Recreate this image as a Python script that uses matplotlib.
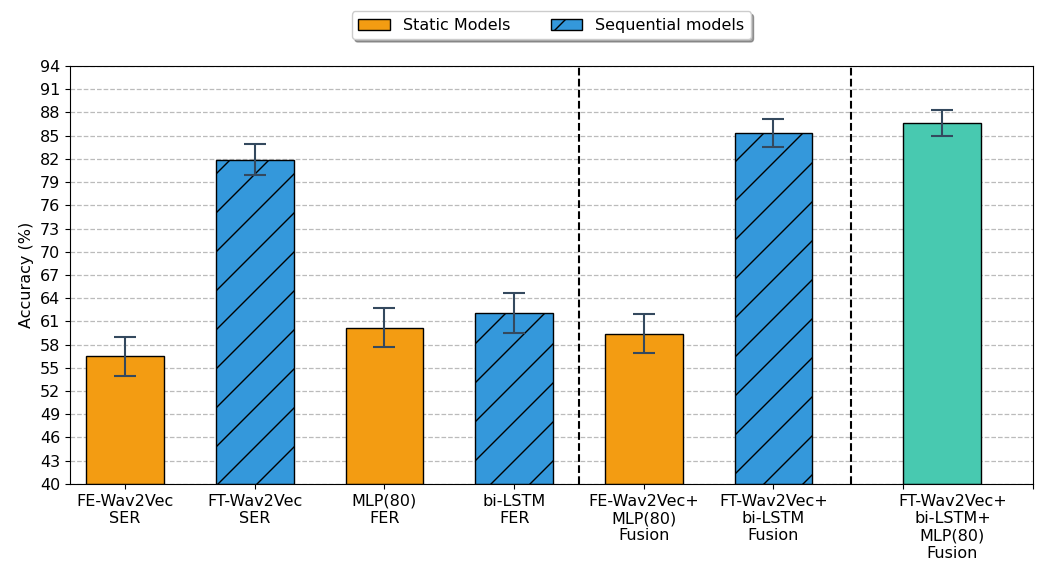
import numpy as np
import matplotlib
matplotlib.use('Agg')
import matplotlib.pyplot as plt
from matplotlib.patches import Patch

# bar labels, positions and values
labels = ['FE-Wav2Vec\nSER', 'FT-Wav2Vec\nSER', 'MLP(80)\nFER', 'bi-LSTM\nFER',
          'FE-Wav2Vec+\nMLP(80)\nFusion', 'FT-Wav2Vec+\nbi-LSTM\nFusion']
last_label = 'FT-Wav2Vec+\nbi-LSTM+\nMLP(80)\nFusion'
positions = [0, 1, 2, 3, 4, 5, 6.3]
accuracy = [56.5, 81.9, 60.2, 62.1, 59.4, 85.3, 86.6]
errors = [2.5, 2.0, 2.5, 2.55, 2.5, 1.8, 1.7]
kinds = ['static', 'seq', 'static', 'seq', 'static', 'seq', 'fusion']

colors = {'static': '#F39C12', 'seq': '#3498DB', 'fusion': '#48C9B0'}
hatches = {'static': '', 'seq': '/', 'fusion': ''}

# hatch spacing depends on dpi, so pick the dpi for it and scale point sizes back
DPI = 117
S = 100.0 / DPI
plt.rcParams.update({
    'font.size': 11.5 * S,
    'axes.linewidth': 0.8 * S,
    'xtick.major.size': 3.5 * S, 'xtick.major.width': 0.8 * S, 'xtick.major.pad': 3.5 * S,
    'ytick.major.size': 3.5 * S, 'ytick.major.width': 0.8 * S, 'ytick.major.pad': 3.5 * S,
    'hatch.linewidth': 1.0 * S,
    'patch.linewidth': 1.0 * S,
    'axes.labelpad': 4.0 * S,
})

fig = plt.figure(figsize=(1037 / DPI, 564 / DPI), dpi=DPI)
ax = fig.add_axes([0.0675, 0.142, 0.9285, 0.741])

ax.yaxis.grid(True, linestyle='--', color='#bbbbbb', linewidth=0.9 * S, zorder=0)
ax.set_axisbelow(True)

for x, v, e, k in zip(positions, accuracy, errors, kinds):
    ax.bar(x, v - 40, bottom=40, width=0.6, color=colors[k], hatch=hatches[k],
           edgecolor='black', linewidth=1.0 * S, zorder=2)
    ax.errorbar(x, v, yerr=e, fmt='none', ecolor='#34495E', elinewidth=1.5 * S,
                capsize=8 * S, capthick=1.5 * S, zorder=3)

ax.axvline(3.5, color='black', linestyle='--', linewidth=1.5 * S, zorder=4)
ax.axvline(5.6, color='black', linestyle='--', linewidth=1.5 * S, zorder=4)

ax.set_xlim(-0.425, 7.0)
ax.set_ylim(40, 94)
ax.set_yticks(np.arange(40, 95, 3))
ax.set_xticks(range(8))
ax.set_xticklabels(labels + ['', ''])
ax.annotate(last_label, xy=(6.38, 0), xycoords=('data', 'axes fraction'),
            xytext=(0, -7 * S), textcoords='offset points', ha='center', va='top')
ax.set_ylabel('Accuracy (%)')

handles = [Patch(facecolor=colors['static'], edgecolor='black', linewidth=1.0 * S,
                 label='Static Models'),
           Patch(facecolor=colors['seq'], edgecolor='black', linewidth=1.0 * S,
                 hatch='/', label='Sequential models')]
leg = ax.legend(handles=handles, loc='lower center', bbox_to_anchor=(0.5, 1.045),
                ncol=2, shadow={'ox': 2 * S, 'oy': -2 * S}, fancybox=True,
                columnspacing=2.5)
leg.get_frame().set_linewidth(1.0 * S)

fig.savefig('out.png', dpi=DPI)
